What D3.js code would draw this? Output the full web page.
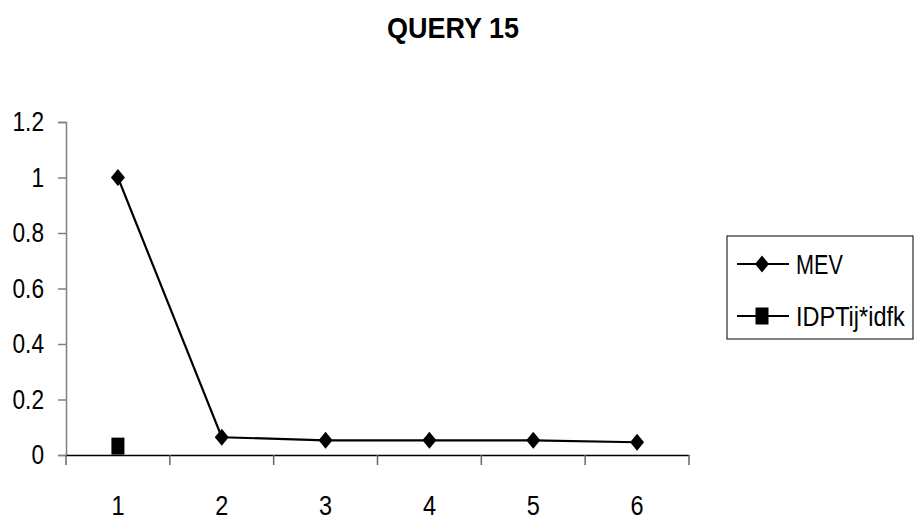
<!DOCTYPE html>
<html><head><meta charset="utf-8">
<script src="https://cdn.jsdelivr.net/npm/d3@7"></script>
<style>
body{margin:0;background:#fff;}
text{font-family:"Liberation Sans Narrow","Arial Narrow","Liberation Sans",Arial,sans-serif;fill:#000;}
</style></head>
<body><svg id="c" width="916" height="529"></svg>
<script>
const title = "QUERY 15";
const categories = ["1","2","3","4","5","6"];
const mevValues = [1, 0.064, 0.053, 0.053, 0.053, 0.046];
const idptValues = [0.032, null, null, null, null, null];
const yTicks = [0, 0.2, 0.4, 0.6, 0.8, 1, 1.2];
const seriesNames = ["MEV", "IDPTij*idfk"];

const SX = 0.84;
const svg = d3.select("#c");
const x = d3.scaleBand().domain(categories).range([66, 689]);
const y = d3.scaleLinear().domain([0, 1.2]).range([455, 122]);

// narrow text helper: place text at (px,py) with horizontal condensation
function narrowText(g, px, py, s, size, sx, anchor, weight) {
  return g.append("text").attr("transform", `translate(${px},${py}) scale(${sx},1)`)
    .attr("text-anchor", anchor || "start").style("font-size", size + "px")
    .style("font-weight", weight || "normal").text(s);
}

narrowText(svg, 453, 38, title, 30, 0.9, "middle", "bold");

// Y axis
const yAxis = svg.append("g").attr("transform", "translate(66,0)")
  .call(d3.axisLeft(y).tickValues(yTicks).tickSize(8).tickPadding(14).tickFormat(d => String(d)));
yAxis.select(".domain").attr("stroke", "#808080").attr("stroke-width", 1.5);
yAxis.selectAll(".tick line").attr("stroke", "#808080").attr("stroke-width", 1.5);
yAxis.selectAll(".tick text").style("font-size", "27px").attr("fill", "#000")
  .attr("x", -22 / SX).attr("transform", `scale(${SX},1)`);

// X axis
const xAxis = svg.append("g").attr("transform", "translate(0,455)")
  .call(d3.axisBottom(x).tickSize(0).tickPadding(38));
xAxis.select(".domain").attr("stroke", "#000").attr("stroke-width", 1.5);
xAxis.selectAll(".tick text").style("font-size", "28px").attr("fill", "#000")
  .attr("transform", `scale(${SX},1)`).attr("y", 40);
const bounds = categories.map(c => x(c)).concat([x(categories[categories.length-1]) + x.bandwidth()]);
xAxis.selectAll(".xt").data(bounds).enter().append("line").attr("class", "xt")
  .attr("x1", d => d).attr("x2", d => d).attr("y1", 0).attr("y2", 10)
  .attr("stroke", "#666").attr("stroke-width", 1.5);

const cx = c => x(c) + x.bandwidth() / 2;
const diamond = (g, px, py) => g.append("path")
  .attr("d", `M${px},${py-8.5}L${px+7},${py}L${px},${py+8.5}L${px-7},${py}Z`).attr("fill", "#000");
const square = (g, px, py) => g.append("rect")
  .attr("x", px - 6.5).attr("y", py - 8.5).attr("width", 13).attr("height", 17).attr("fill", "#000");

// series lines
const line = d3.line().defined(d => d[1] != null).x(d => cx(d[0])).y(d => y(d[1]));
svg.append("path").datum(categories.map((c, i) => [c, mevValues[i]]))
  .attr("d", line).attr("fill", "none").attr("stroke", "#000").attr("stroke-width", 2.2);
const pts = svg.append("g");
categories.forEach((c, i) => { if (mevValues[i] != null) diamond(pts, cx(c), y(mevValues[i])); });
svg.append("path").datum(categories.map((c, i) => [c, idptValues[i]]))
  .attr("d", line).attr("fill", "none").attr("stroke", "#000").attr("stroke-width", 2.2);
categories.forEach((c, i) => { if (idptValues[i] != null) square(pts, cx(c), y(idptValues[i])); });

// Legend
const lg = svg.append("g");
lg.append("rect").attr("x", 727).attr("y", 236).attr("width", 186).attr("height", 103)
  .attr("fill", "#fff").attr("stroke", "#000").attr("stroke-width", 1);
seriesNames.forEach((n, i) => {
  const yy = 264 + i * 52;
  lg.append("line").attr("x1", 737).attr("x2", 789).attr("y1", yy).attr("y2", yy)
    .attr("stroke", "#000").attr("stroke-width", 2.2);
  if (i === 0) diamond(lg, 762, yy); else square(lg, 762, yy);
  narrowText(lg, 796, yy + 9.5, n, 27, i === 0 ? 0.8 : 0.87, "start");
});
</script></body></html>
